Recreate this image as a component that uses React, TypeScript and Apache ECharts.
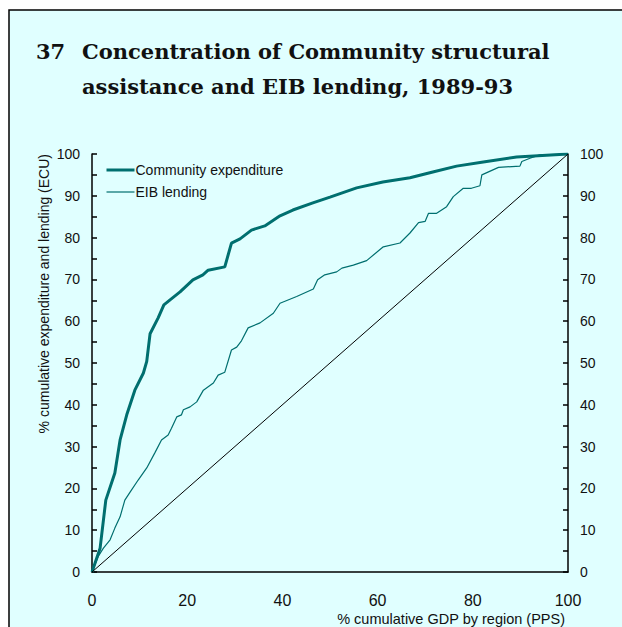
import React, { useEffect, useRef } from "react";
import * as echarts from "echarts";

const communityX = [0, 1.7, 2.9, 4.8, 5.9, 7.3, 9.0, 10.8, 11.5, 12.2, 13.9, 15.1, 16.4, 18.5, 21.2, 23.3, 24.4, 27.9, 29.3, 31.1, 33.5, 36.3, 39.5, 42.2, 46.4, 50, 55.6, 61.1, 66.8, 71.6, 76.6, 82.2, 89.2, 100];
const communityY = [0, 5.7, 17.2, 23.7, 31.6, 37.6, 43.5, 47.6, 50.4, 57.0, 60.8, 63.9, 65.1, 67.0, 69.9, 71.1, 72.2, 73.0, 78.7, 79.7, 81.8, 82.8, 85.2, 86.6, 88.3, 89.7, 91.9, 93.3, 94.3, 95.7, 97.1, 98.1, 99.3, 100];

const eibX = [0, 1.3, 2.4, 3.8, 4.8, 5.9, 6.9, 8.0, 9.7, 11.5, 13.2, 14.6, 16.0, 16.7, 17.8, 18.8, 19.2, 20.6, 22.0, 23.4, 25.5, 26.5, 27.9, 29.3, 30.4, 31.4, 32.8, 35.3, 38.1, 39.5, 43.0, 46.5, 47.4, 48.9, 51.4, 52.5, 54.9, 57.7, 61.2, 64.7, 66.8, 68.6, 70.0, 70.7, 72.4, 74.5, 75.9, 78.0, 79.7, 81.5, 81.9, 85.4, 89.9, 90.3, 92.0, 94.1, 100];
const eibY = [0, 3.7, 5.7, 7.7, 10.5, 13.2, 17.2, 19.1, 22.0, 24.9, 28.5, 31.6, 32.8, 34.4, 37.1, 37.6, 38.8, 39.5, 40.7, 43.5, 45.2, 47.1, 47.8, 53.1, 53.8, 55.3, 58.4, 59.6, 61.9, 64.3, 65.9, 67.7, 69.9, 71.1, 71.8, 72.7, 73.4, 74.5, 77.8, 78.7, 81.1, 83.6, 83.9, 85.8, 85.8, 87.4, 89.8, 91.8, 91.8, 92.4, 95.0, 96.8, 97.1, 98.2, 99.0, 99.8, 100];

const diagonalX = [0, 100];
const diagonalY = [0, 100];

const xTicks = { min: 0, max: 100, interval: 20 };
const yTicks = { min: 0, max: 100, interval: 10 };

const seriesNames = ["Community expenditure", "EIB lending"];
const seriesWidths = [3, 1.2];

const TEAL = "#006f6f";
const BG = "#e0ffff";
const SANS = "'Liberation Sans', Arial, sans-serif";
const SERIF = "'DejaVu Serif', serif";

function zip(xs: number[], ys: number[]) {
  return xs.map((x, i) => [x, ys[i]]);
}

export default function App() {
  const ref = useRef<HTMLDivElement>(null);
  useEffect(() => {
    document.body.style.margin = "0";
    const chart = echarts.init(ref.current!, null, { renderer: "svg" });
    const yAxisBase = {
      type: "value" as const,
      min: yTicks.min,
      max: yTicks.max,
      interval: yTicks.interval,
      axisLine: { show: true, lineStyle: { color: "#000", width: 1.5 } },
      axisTick: { show: true, inside: true, length: 5, lineStyle: { color: "#000", width: 1.5 } },
      minorTick: { show: true, splitNumber: 2, length: 5, lineStyle: { color: "#000", width: 1.5 } },
      splitLine: { show: false },
      axisLabel: { fontSize: 14, color: "#111", fontFamily: SANS, margin: 12 },
    };
    const titleStyle = { fontFamily: SERIF, fontWeight: "bold", fontSize: 21, fill: "#111", textVerticalAlign: "bottom" };
    chart.setOption({
      animation: false,
      backgroundColor: "#ffffff",
      graphic: [
        {
          type: "rect",
          shape: { x: 9, y: 10, width: 700, height: 700 },
          style: { fill: BG, stroke: "#000", lineWidth: 1.5 },
          z: -10,
          silent: true,
        },
        { type: "text", x: 36, y: 62, style: { ...titleStyle, text: "37" } },
        { type: "text", x: 82, y: 62, style: { ...titleStyle, text: "Concentration of Community structural" } },
        { type: "text", x: 82, y: 97, style: { ...titleStyle, text: "assistance and EIB lending, 1989-93" } },
        {
          type: "text",
          x: 44,
          y: 154,
          rotation: Math.PI / 2,
          style: { text: "% cumulative expenditure and lending (ECU)", fontFamily: SANS, fontSize: 14, fill: "#111", textAlign: "right", textVerticalAlign: "middle" },
        },
        {
          type: "text",
          x: 565,
          y: 619,
          style: { text: "% cumulative GDP by region (PPS)", fontFamily: SANS, fontSize: 14.5, fill: "#111", textAlign: "right", textVerticalAlign: "middle" },
        },
      ],
      legend: {
        data: seriesNames.map((name, i) => ({ name, lineStyle: { width: seriesWidths[i], color: TEAL } })),
        orient: "vertical",
        left: 105,
        top: 163,
        padding: 0,
        itemWidth: 28,
        itemHeight: 14,
        itemGap: 8,
        itemStyle: { opacity: 0 },
        textStyle: { fontSize: 14, fontFamily: SANS, color: "#111", padding: [0, 0, 0, -4] },
      },
      grid: { left: 92, right: 54, top: 154, bottom: 55, containLabel: false },
      xAxis: {
        type: "value",
        min: xTicks.min,
        max: xTicks.max,
        interval: xTicks.interval,
        axisLine: { show: true, lineStyle: { color: "#000", width: 1.5 } },
        axisTick: { show: false },
        splitLine: { show: false },
        axisLabel: { fontSize: 16, color: "#111", fontFamily: SANS, margin: 20 },
      },
      yAxis: [
        { ...yAxisBase, position: "left" },
        { ...yAxisBase, position: "right" },
      ],
      series: [
        {
          name: seriesNames[0],
          type: "line",
          data: zip(communityX, communityY),
          showSymbol: false,
          symbol: "none",
          lineStyle: { color: TEAL, width: seriesWidths[0] },
          itemStyle: { color: TEAL },
        },
        {
          name: seriesNames[1],
          type: "line",
          data: zip(eibX, eibY),
          showSymbol: false,
          symbol: "none",
          lineStyle: { color: TEAL, width: seriesWidths[1] },
          itemStyle: { color: TEAL },
        },
        {
          name: "diagonal",
          type: "line",
          data: zip(diagonalX, diagonalY),
          showSymbol: false,
          symbol: "none",
          lineStyle: { color: "#000", width: 1 },
        },
      ],
    });
    return () => chart.dispose();
  }, []);
  return <div ref={ref} style={{ position: "absolute", left: 0, top: 0, width: 622, height: 627 }} />;
}
